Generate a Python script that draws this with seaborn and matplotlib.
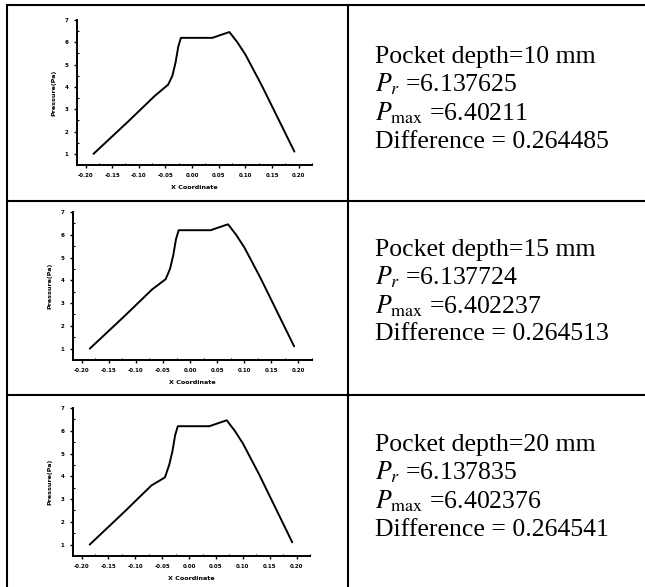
import matplotlib
matplotlib.use("Agg")
import matplotlib.pyplot as plt
import seaborn as sns
from matplotlib.lines import Line2D
from matplotlib.ticker import MultipleLocator

# --- data ---
depths = [10, 15, 20]
p_r = ["6.137625", "6.137724", "6.137835"]
p_max = ["6.40211", "6.402237", "6.402376"]
diffs = ["0.264485", "0.264513", "0.264541"]

x_coord = [-0.185, -0.12, -0.07, -0.045, -0.037, -0.031, -0.026, -0.021, 0.0,
           0.038, 0.05, 0.07, 0.085, 0.10, 0.13, 0.16, 0.192]
pressure_10 = [1.0, 2.45, 3.6, 4.1, 4.5, 5.1, 5.8, 6.2, 6.2,
               6.2, 6.3, 6.46, 6.0, 5.45, 4.1, 2.65, 1.1]
pressure_15 = [1.0, 2.45, 3.6, 4.05, 4.5, 5.1, 5.8, 6.2, 6.2,
               6.2, 6.3, 6.46, 6.0, 5.45, 4.1, 2.65, 1.1]
pressure_20 = [1.0, 2.45, 3.6, 3.95, 4.5, 5.1, 5.8, 6.2, 6.2,
               6.2, 6.3, 6.46, 6.0, 5.45, 4.1, 2.65, 1.1]
pressures = [pressure_10, pressure_15, pressure_20]

x_ticks = [-0.20, -0.15, -0.10, -0.05, 0.00, 0.05, 0.10, 0.15, 0.20]
y_ticks = [1, 2, 3, 4, 5, 6, 7]

# --- layout (pixels) ---
W, H = 645, 587
axes_px = [(77, 312, 20, 165), (73, 312, 212, 360), (73, 310, 408, 556)]
text_base = [63, 256, 451]
line_step = [0, 28.5, 57, 84.5]

sns.set_style("ticks", {"axes.edgecolor": "black", "text.color": "black",
                        "axes.labelcolor": "black", "xtick.color": "black",
                        "ytick.color": "black"})
plt.rcParams['mathtext.fontset'] = 'stix'

fig = plt.figure(figsize=(W / 100, H / 100), dpi=100)

for i in range(3):
    l, r, t, b = axes_px[i]
    ax = fig.add_axes([l / W, 1 - b / H, (r - l) / W, (b - t) / H])
    sns.lineplot(x=x_coord, y=pressures[i], ax=ax, color='black', lw=1.4,
                 sort=False, estimator=None)
    ax.set_xlim(-0.216, 0.225)
    ax.set_ylim(0.5, 7)
    ax.set_xticks(x_ticks)
    ax.set_xticklabels([f"{v:.2f}" for v in x_ticks], fontsize=4, fontweight='bold')
    ax.set_yticks(y_ticks)
    ax.set_yticklabels([str(v) for v in y_ticks], fontsize=4, fontweight='bold')
    ax.xaxis.set_minor_locator(MultipleLocator(0.025))
    ax.yaxis.set_minor_locator(MultipleLocator(0.5))
    ax.tick_params(which='major', direction='out', length=2, width=1, pad=4)
    ax.tick_params(which='minor', direction='in', length=1.5, width=0.8)
    ax.set_xlabel("X Coordinate", fontsize=4.6, fontweight='bold', labelpad=5)
    ax.set_ylabel("Pressure(Pa)", fontsize=4.6, fontweight='bold', labelpad=6)
    for s in ['left', 'bottom']:
        ax.spines[s].set_linewidth(1.4)
    sns.despine(ax=ax)

    # text column
    lines = [f"Pocket depth={depths[i]} mm",
             r"$P_r$ =" + p_r[i],
             r"$P_{\mathrm{max}}$ =" + p_max[i],
             "Difference = " + diffs[i]]
    for k, txt in enumerate(lines):
        y = text_base[i] + line_step[k]
        fig.text(375 / W, 1 - y / H, txt, fontsize=18.5, family='Liberation Serif',
                 color='black', va='baseline', ha='left')

# table lines
lw = 1.5
for yy in [5, 200.5, 395]:
    fig.add_artist(Line2D([7 / W, 1], [1 - yy / H, 1 - yy / H], color='black',
                          lw=lw, transform=fig.transFigure))
for xx in [7, 348]:
    fig.add_artist(Line2D([xx / W, xx / W], [1 - 5 / H, 0], color='black',
                          lw=lw, transform=fig.transFigure))

plt.savefig('out.png', dpi=100)
